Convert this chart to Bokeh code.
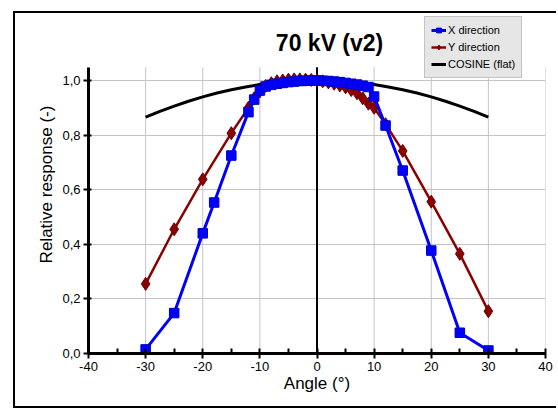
from bokeh.plotting import figure
from bokeh.models import FixedTicker, Legend, LegendItem, Label
from bokeh.embed import file_html
from bokeh.resources import INLINE

# ---- data ----
x_dir_angle = [-30, -25, -20, -18, -15, -12, -11, -10, -9, -8, -7, -6, -5, -4, -3, -2, -1, 0,
               1, 2, 3, 4, 5, 6, 7, 8, 9, 10, 12, 15, 20, 25, 30]
x_dir_resp = [0.015, 0.148, 0.44, 0.553, 0.725, 0.884, 0.93, 0.963, 0.978, 0.984, 0.988, 0.991,
              0.994, 0.996, 0.998, 0.999, 1.0, 1.0, 0.999, 0.998, 0.996, 0.994, 0.991, 0.988,
              0.985, 0.981, 0.976, 0.941, 0.835, 0.67, 0.377, 0.076, 0.011]

y_dir_angle = [-30, -25, -20, -15, -12, -11, -10, -9, -8, -7, -6, -5, -4, -3, -2, -1, 0,
               1, 2, 3, 4, 5, 6, 7, 8, 9, 10, 12, 15, 20, 25, 30]
y_dir_resp = [0.255, 0.455, 0.638, 0.807, 0.90, 0.935, 0.96, 0.98, 0.99, 0.997, 1.0, 1.003,
              1.004, 1.004, 1.003, 1.002, 1.0, 0.997, 0.993, 0.988, 0.982, 0.975, 0.965, 0.953,
              0.935, 0.915, 0.90, 0.84, 0.742, 0.556, 0.365, 0.155]

cos_angle = [-30, -27.5, -25, -22.5, -20, -17.5, -15, -12.5, -10, -7.5, -5, -2.5, 0,
             2.5, 5, 7.5, 10, 12.5, 15, 17.5, 20, 22.5, 25, 27.5, 30]
cos_resp = [0.866, 0.887, 0.906, 0.924, 0.940, 0.954, 0.966, 0.976, 0.985, 0.991, 0.996, 0.999, 1.0,
            0.999, 0.996, 0.991, 0.985, 0.976, 0.966, 0.954, 0.940, 0.924, 0.906, 0.887, 0.866]

x_ticks = [-40, -30, -20, -10, 0, 10, 20, 30, 40]
x_tick_labels = ["-40", "-30", "-20", "-10", "0", "10", "20", "30", "40"]
x_minor = [-35, -25, -15, -5, 5, 15, 25, 35]
x_grid = [-30, -20, -10, 10, 20, 30, 40]
y_ticks = [0.0, 0.2, 0.4, 0.6, 0.8, 1.0]
y_tick_labels = ["0,0", "0,2", "0,4", "0,6", "0,8", "1,0"]

title_text = "70 kV (v2)"
x_label = "Angle (°)"
y_label = "Relative response (-)"
legend_labels = ["X direction", "Y direction", "COSINE (flat)"]

FONT = "Liberation Sans"
Y_AXIS_TOP = 1.048      # top of the drawn axis area
Y_RANGE_TOP = 1.238     # room above for title and legend

p = figure(width=543, height=397, x_range=(-40, 40), y_range=(0, Y_RANGE_TOP),
           output_backend="svg", toolbar_location=None,
           min_border_left=73, min_border_right=13, min_border_top=2, min_border_bottom=57)
p.styles = {"margin-left": "13px", "margin-top": "11px",
            "border-left": "2px solid black", "border-top": "2px solid black",
            "border-bottom": "2px solid black"}
p.outline_line_color = None
p.background_fill_color = "white"
p.border_fill_color = "white"

# axes
p.xaxis.ticker = FixedTicker(ticks=x_ticks, minor_ticks=x_minor)
p.xaxis.major_label_overrides = {v: s for v, s in zip(x_ticks, x_tick_labels)}
p.yaxis.ticker = FixedTicker(ticks=y_ticks)
p.yaxis.bounds = (0, Y_AXIS_TOP)
p.yaxis.major_label_overrides = {v: s for v, s in zip(y_ticks, y_tick_labels)}
for ax in (p.xaxis[0], p.yaxis[0]):
    ax.axis_line_width = 3
    ax.axis_line_color = "black"
    ax.major_tick_line_width = 2
    ax.major_tick_line_color = "black"
    ax.minor_tick_line_width = 2
    ax.minor_tick_line_color = "black"
    ax.major_label_text_font = FONT
    ax.major_label_text_font_size = "13px"
    ax.major_label_text_color = "black"
    ax.axis_label_text_font = FONT
    ax.axis_label_text_font_size = "17px"
    ax.axis_label_text_font_style = "normal"
    ax.axis_label_text_color = "black"
p.xaxis.axis_label = x_label
p.yaxis.axis_label = y_label
p.xaxis.major_tick_in = 5
p.xaxis.major_tick_out = 5
p.xaxis.minor_tick_in = 5
p.xaxis.minor_tick_out = 0
p.xaxis.major_label_standoff = 3
p.xaxis.axis_label_standoff = 0
p.yaxis.major_tick_in = 3
p.yaxis.major_tick_out = 5
p.yaxis.minor_tick_line_color = None
p.yaxis.major_label_standoff = 3
p.yaxis.axis_label_standoff = 3

# grid
p.xgrid.visible = False
p.ygrid.ticker = FixedTicker(ticks=y_ticks)
p.ygrid.grid_line_color = "#c4c4c4"
p.ygrid.grid_line_width = 1
p.segment(x0=x_grid, y0=[0] * len(x_grid), x1=x_grid, y1=[Y_AXIS_TOP] * len(x_grid),
          line_color="#c4c4c4", line_width=1)
# zero line
p.segment(x0=[0], y0=[0], x1=[0], y1=[Y_AXIS_TOP], line_color="black", line_width=2)

# series
c_line = p.line(cos_angle, cos_resp, line_color="black", line_width=3)
y_line = p.line(y_dir_angle, y_dir_resp, line_color="#8b0000", line_width=2.5)
y_pts = p.scatter(y_dir_angle, y_dir_resp, marker="diamond", size=13,
                  fill_color="#8b0000", line_color="#6b0000", line_width=1)
x_line = p.line(x_dir_angle, x_dir_resp, line_color="#0000ff", line_width=3)
x_pts = p.scatter(x_dir_angle, x_dir_resp, marker="square", size=9.5,
                  fill_color="#0000ff", line_color="#0000cc", line_width=1)

# title (inside the extended frame, above the axis area)
p.add_layout(Label(x=2.2, y=1.139, text=title_text, text_font=FONT, text_font_size="23px",
                   text_font_style="bold", text_color="black",
                   text_align="center", text_baseline="middle"))

legend = Legend(items=[
    LegendItem(label=legend_labels[0], renderers=[x_line, x_pts]),
    LegendItem(label=legend_labels[1], renderers=[y_line, y_pts]),
    LegendItem(label=legend_labels[2], renderers=[c_line]),
], location=(336, 275))
legend.label_text_font = FONT
legend.label_text_font_size = "11px"
legend.label_text_color = "black"
legend.glyph_width = 15
legend.glyph_height = 12
legend.label_height = 14
legend.label_standoff = 2
legend.spacing = 3
legend.padding = 6
legend.margin = 0
legend.background_fill_color = "#e6e6e6"
legend.background_fill_alpha = 1
legend.border_line_color = "#a0a0a0"
legend.border_line_width = 1
p.add_layout(legend)

open("out.html", "w").write(file_html(p, INLINE))
